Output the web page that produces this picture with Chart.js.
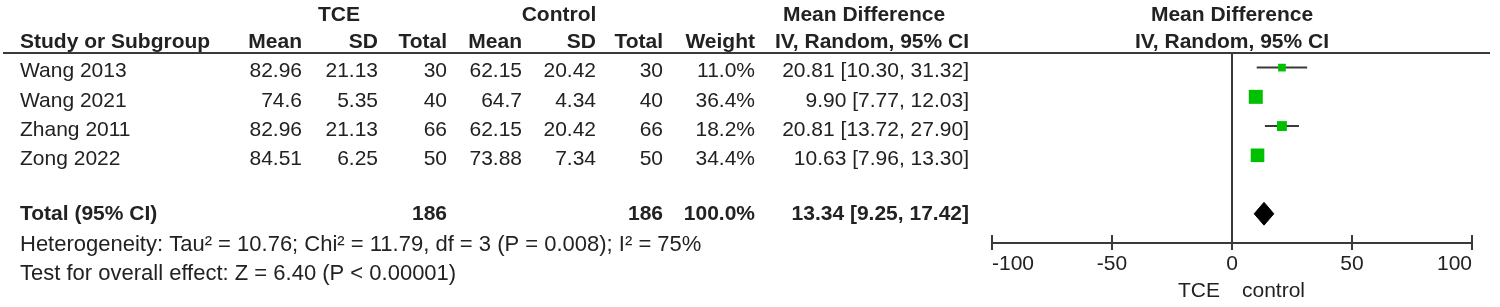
<!DOCTYPE html>
<html>
<head>
<meta charset="utf-8">
<script src="https://cdn.jsdelivr.net/npm/chart.js@4"></script>
<style>
  html, body { margin: 0; padding: 0; background: #fff; }
  #wrap { width: 1500px; height: 307px; position: relative; }
</style>
</head>
<body>
<div id="wrap"><canvas id="forest"></canvas></div>
<script>
// study data
const studies = ['Wang 2013', 'Wang 2021', 'Zhang 2011', 'Zong 2022'];
const tceMean = ['82.96', '74.6', '82.96', '84.51'];
const tceSD = ['21.13', '5.35', '21.13', '6.25'];
const tceTotal = [30, 40, 66, 50];
const ctrlMean = ['62.15', '64.7', '62.15', '73.88'];
const ctrlSD = ['20.42', '4.34', '20.42', '7.34'];
const ctrlTotal = [30, 40, 66, 50];
const weights = [11.0, 36.4, 18.2, 34.4];
const md = [20.81, 9.90, 20.81, 10.63];
const ciLow = [10.30, 7.77, 13.72, 7.96];
const ciHigh = [31.32, 12.03, 27.90, 13.30];

// pooled result
const totalTce = 186;
const totalCtrl = 186;
const totalWeight = 100.0;
const totalMd = 13.34;
const totalLow = 9.25;
const totalHigh = 17.42;

const xTicks = [-100, -50, 0, 50, 100];
const heterogeneity = 'Heterogeneity: Tau\u00b2 = 10.76; Chi\u00b2 = 11.79, df = 3 (P = 0.008); I\u00b2 = 75%';
const overallEffect = 'Test for overall effect: Z = 6.40 (P < 0.00001)';

const TOTAL_ROW = 6;
const FONT = '"Liberation Sans", Arial, sans-serif';
const FS = 21;
const INK = '#222';
const LINE = '#3a3a3a';
const GREEN = '#00c000';

// colonnes du tableau (bord droit des nombres)
const cols = { mean1: 302, sd1: 378, tot1: 447, mean2: 522, sd2: 596, tot2: 663, weight: 755, ci: 969 };
const LEFT = 20;

const fmtCI = (m, lo, hi) => m.toFixed(2) + ' [' + lo.toFixed(2) + ', ' + hi.toFixed(2) + ']';

// lignes d'intervalle de confiance
const ciSets = studies.map((s, i) => ({
  data: [{ x: ciLow[i], y: i + 1 }, { x: ciHigh[i], y: i + 1 }],
  borderColor: LINE,
  borderWidth: 2,
  pointRadius: 0,
  order: 2
}));

const squares = {
  data: md.map((m, i) => ({ x: m, y: i + 1 })),
  showLine: false,
  pointStyle: 'rect',
  pointRadius: weights.map(w => 2.32 * Math.sqrt(w) / Math.SQRT2),
  backgroundColor: GREEN,
  borderColor: GREEN,
  borderWidth: 0,
  order: 1
};

const dh = 0.39;
const diamond = {
  data: [
    { x: totalLow, y: TOTAL_ROW },
    { x: totalMd, y: TOTAL_ROW - dh },
    { x: totalHigh, y: TOTAL_ROW },
    { x: totalMd, y: TOTAL_ROW + dh },
    { x: totalLow, y: TOTAL_ROW }
  ],
  borderColor: '#000',
  backgroundColor: '#000',
  borderWidth: 1,
  pointRadius: 0,
  tension: 0,
  fill: 'shape',
  order: 1
};

const tablePlugin = {
  id: 'tablePlugin',
  afterDraw(chart) {
    const ctx = chart.ctx;
    const x = chart.scales.x;
    const y = chart.scales.y;
    const area = chart.chartArea;
    const zero = x.getPixelForValue(0);
    ctx.save();

    // ligne sous l'en-tête
    ctx.strokeStyle = LINE;
    ctx.lineWidth = 2;
    ctx.beginPath();
    ctx.moveTo(3, area.top);
    ctx.lineTo(1490, area.top);
    ctx.stroke();

    // petites graduations au-dessus de l'axe
    xTicks.forEach(v => {
      const px = x.getPixelForValue(v);
      ctx.beginPath();
      ctx.moveTo(px, area.bottom - 8);
      ctx.lineTo(px, area.bottom);
      ctx.stroke();
    });

    ctx.fillStyle = INK;
    ctx.textBaseline = 'middle';
    const txt = (s, px, py, align, bold, size) => {
      ctx.font = (bold ? 'bold ' : '') + (size || FS) + 'px ' + FONT;
      ctx.textAlign = align;
      ctx.fillText(s, px, py);
    };

    // en-têtes
    txt('TCE', 339, 15, 'center', true);
    txt('Control', 559, 15, 'center', true);
    txt('Mean Difference', 864, 15, 'center', true);
    txt('Mean Difference', zero, 15, 'center', true);
    txt('Study or Subgroup', LEFT, 42, 'left', true);
    txt('Mean', cols.mean1, 42, 'right', true);
    txt('SD', cols.sd1, 42, 'right', true);
    txt('Total', cols.tot1, 42, 'right', true);
    txt('Mean', cols.mean2, 42, 'right', true);
    txt('SD', cols.sd2, 42, 'right', true);
    txt('Total', cols.tot2, 42, 'right', true);
    txt('Weight', cols.weight, 42, 'right', true);
    txt('IV, Random, 95% CI', cols.ci, 42, 'right', true);
    txt('IV, Random, 95% CI', zero, 42, 'center', true);

    // lignes des études
    studies.forEach((s, i) => {
      const py = y.getPixelForValue(i + 1) + 4;
      txt(s, LEFT, py, 'left');
      txt(tceMean[i], cols.mean1, py, 'right');
      txt(tceSD[i], cols.sd1, py, 'right');
      txt(String(tceTotal[i]), cols.tot1, py, 'right');
      txt(ctrlMean[i], cols.mean2, py, 'right');
      txt(ctrlSD[i], cols.sd2, py, 'right');
      txt(String(ctrlTotal[i]), cols.tot2, py, 'right');
      txt(weights[i].toFixed(1) + '%', cols.weight, py, 'right');
      txt(fmtCI(md[i], ciLow[i], ciHigh[i]), cols.ci, py, 'right');
    });

    // total
    const ty = y.getPixelForValue(TOTAL_ROW);
    txt('Total (95% CI)', LEFT, ty, 'left', true);
    txt(String(totalTce), cols.tot1, ty, 'right', true);
    txt(String(totalCtrl), cols.tot2, ty, 'right', true);
    txt(totalWeight.toFixed(1) + '%', cols.weight, ty, 'right', true);
    txt(fmtCI(totalMd, totalLow, totalHigh), cols.ci, ty, 'right', true);

    txt(heterogeneity, LEFT, 245, 'left', false, 22);
    txt(overallEffect, LEFT, 274, 'left', false, 22);

    // libellés sous l'axe
    txt('TCE', zero - 12, 291, 'right');
    txt('control', zero + 10, 291, 'left');

    ctx.restore();
  }
};

new Chart(document.getElementById('forest'), {
  type: 'line',
  data: { datasets: [...ciSets, squares, diamond] },
  options: {
    responsive: true,
    maintainAspectRatio: false,
    animation: false,
    layout: { padding: { left: 992, right: 28, top: 53, bottom: 0 } },
    plugins: { legend: { display: false }, tooltip: { enabled: false } },
    scales: {
      x: {
        type: 'linear',
        min: -100,
        max: 100,
        afterBuildTicks: s => { s.ticks = xTicks.map(v => ({ value: v })); },
        afterFit: s => { s.height = 64; },
        ticks: {
          autoSkip: false,
          maxRotation: 0,
          padding: 2,
          align: 'inner',
          color: INK,
          font: { family: FONT, size: FS }
        },
        grid: {
          drawOnChartArea: true,
          color: c => (c.tick && c.tick.value === 0 ? LINE : 'rgba(0,0,0,0)'),
          tickColor: LINE,
          tickLength: 7,
          lineWidth: 2
        },
        border: { color: LINE, width: 2 }
      },
      y: { type: 'linear', reverse: true, min: 0.5, max: 7, display: false }
    }
  },
  plugins: [tablePlugin]
});
</script>
</body>
</html>
